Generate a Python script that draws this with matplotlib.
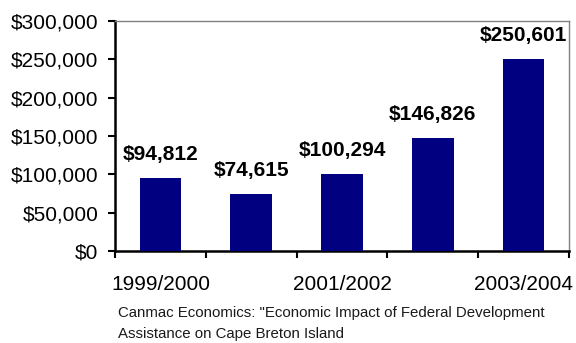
import matplotlib
matplotlib.use("Agg")
import matplotlib.pyplot as plt
from matplotlib.ticker import FuncFormatter, FixedLocator

plt.rcParams['font.family'] = ['Liberation Sans', 'DejaVu Sans']

years = ["1999/2000", "2000/2001", "2001/2002", "2002/2003", "2003/2004"]
amounts = [94812, 74615, 100294, 146826, 250601]
shown_labels = ["1999/2000", "", "2001/2002", "", "2003/2004"]
source = ('Canmac Economics: "Economic Impact of Federal Development\n'
          'Assistance on Cape Breton Island')

fig = plt.figure(figsize=(5.76, 3.43), dpi=100)
ax = fig.add_axes([115 / 576, 1 - 251 / 343, 454 / 576, 230 / 343])

x = list(range(len(years)))
bars = ax.bar(x, amounts, width=0.46, color="#000080", zorder=3)

for xi, v in zip(x, amounts):
    ax.annotate(f"${v:,}", xy=(xi, v), xytext=(0, 17), textcoords="offset points",
                ha="center", va="center", fontsize=15, fontweight="bold")

ax.set_xlim(-0.5, len(years) - 0.5)
ax.set_ylim(0, 300000)
ax.set_yticks(range(0, 300001, 50000))
ax.yaxis.set_major_formatter(FuncFormatter(lambda v, p: f"${int(v):,}"))

ax.set_xticks(x)
ax.set_xticklabels(shown_labels)
ax.xaxis.set_minor_locator(FixedLocator([i - 0.5 for i in range(len(years) + 1)]))
ax.tick_params(axis="x", which="major", length=0, pad=17, labelsize=15)
ax.tick_params(axis="x", which="minor", length=5, width=1.5, direction="out")
ax.tick_params(axis="y", length=5, width=1.5, direction="out", pad=7, labelsize=15)

for side in ("left", "bottom"):
    ax.spines[side].set_linewidth(1.8)
    ax.spines[side].set_color("black")
for side in ("top", "right"):
    ax.spines[side].set_linewidth(1.0)
    ax.spines[side].set_color("#808080")

fig.text(118 / 576, 1 - 306 / 343, source, ha="left", va="top", fontsize=10.8,
         linespacing=1.6, color="#1a1a1a")

fig.savefig("out.png", dpi=100)
